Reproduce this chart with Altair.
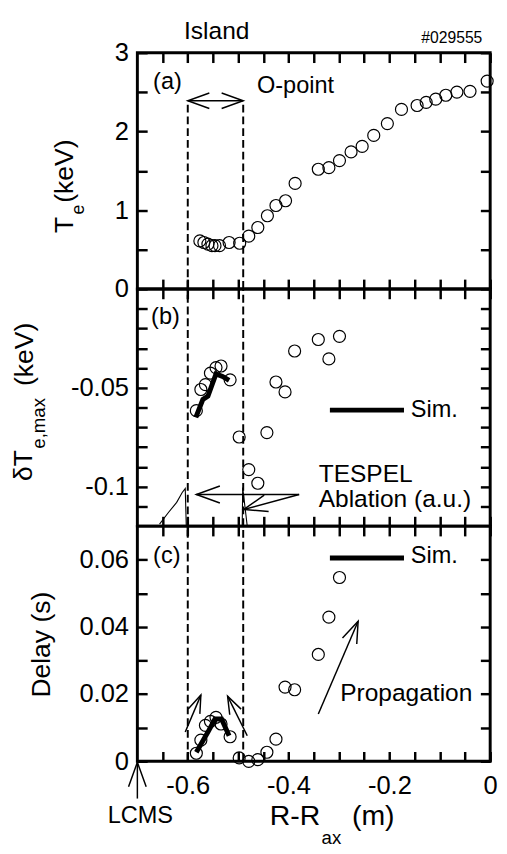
import math
import json
import altair as alt
import pandas as pd

FONT = "Liberation Sans"

# ---------------- data ----------------
# (a) electron temperature profile
te_r = [-0.576, -0.568, -0.560, -0.552, -0.546, -0.537, -0.518, -0.497, -0.479, -0.461,
        -0.442, -0.425, -0.406, -0.387, -0.341, -0.320, -0.299, -0.276, -0.254, -0.231,
        -0.204, -0.176, -0.145, -0.127, -0.108, -0.088, -0.066, -0.040, -0.006]
te_kev = [0.61, 0.59, 0.57, 0.55, 0.55, 0.55, 0.59, 0.58, 0.67, 0.78,
          0.93, 1.06, 1.12, 1.34, 1.52, 1.54, 1.63, 1.74, 1.81, 1.95,
          2.10, 2.28, 2.33, 2.37, 2.41, 2.46, 2.50, 2.51, 2.64]

# (b), (c) measured channels
r_bc = [-0.583, -0.574, -0.565, -0.555, -0.544, -0.534, -0.516, -0.498, -0.479, -0.461,
        -0.443, -0.425, -0.407, -0.388, -0.341, -0.320, -0.299]
dte_max = [-0.0616, -0.0509, -0.0484, -0.0426, -0.0398, -0.0390, -0.0460, -0.0749, -0.0914, -0.0983,
           -0.0727, -0.0471, -0.0521, -0.0314, -0.0256, -0.0354, -0.0240]
delay_s = [0.0024, 0.0063, 0.0107, 0.0119, 0.0131, 0.0111, 0.0073, 0.0010, 0.0000, 0.0005,
           0.0027, 0.0066, 0.0221, 0.0213, 0.0318, 0.0429, 0.0547]

# simulations
sim_b_r = [-0.584, -0.570, -0.560, -0.544, -0.531, -0.518]
sim_b_dte = [-0.0650, -0.0559, -0.0542, -0.0430, -0.0443, -0.0463]
sim_c_r = [-0.583, -0.560, -0.546, -0.533, -0.518]
sim_c_delay = [0.0027, 0.0087, 0.0126, 0.0126, 0.0076]

# TESPEL ablation traces (a.u., drawn at the bottom of panel b)
abl1_r = [-0.656, -0.638, -0.622, -0.611, -0.605, -0.603]
abl1_v = [-0.1190, -0.1130, -0.1080, -0.1030, -0.1010, -0.1200]
abl2_r = [-0.492, -0.491, -0.482]
abl2_v = [-0.1200, -0.1005, -0.1200]

island_r = [-0.6, -0.49]
island_arrow_te = 2.39

# axes: tick positions and labelled values
x_ticks = [-0.65, -0.6, -0.55, -0.5, -0.45, -0.4, -0.35, -0.3, -0.25, -0.2, -0.15, -0.1, -0.05, 0.0]
x_labels = [-0.6, -0.4, -0.2, 0.0]
a_ticks = [0, 0.5, 1, 1.5, 2, 2.5, 3]
a_labels = [0, 1, 2, 3]
b_ticks = [-0.01, -0.02, -0.03, -0.04, -0.05, -0.06, -0.07, -0.08, -0.09, -0.1, -0.11]
b_labels = [-0.05, -0.1]
c_ticks = [0, 0.01, 0.02, 0.03, 0.04, 0.05, 0.06]
c_labels = [0, 0.02, 0.04, 0.06]

# ---------------- layout ----------------
W = 360
HA, HB, HC = 241, 242, 240
XDOM = [-0.7, 0.0]
ADOM, BDOM, CDOM = [0, 3], [-0.12, 0], [0, 0.07]
FMT = "(datum.value < 0 ? '-' + format(-datum.value, '') : format(datum.value, ''))"
HEAD = "M -1 -0.36 L 0 0 L -1 0.36"
TICK_FS = 26
TL = 10  # inward tick length (px)


def frame_axis(orient, vals, labels=None, pad=9):
    """Axis moved inside the frame by its own tick length, so its ticks point inward."""
    kw = dict(orient=orient, values=vals, ticks=True, tickSize=TL, tickWidth=2.5,
              tickColor="black", domain=False, grid=False, title=None, offset=-TL, zindex=1)
    if labels:
        kw.update(labels=True,
                  labelExpr="indexof(" + json.dumps(labels) + ", datum.value) >= 0 ? " + FMT + " : ''",
                  labelFontSize=TICK_FS, labelFont=FONT, labelColor="black",
                  labelPadding=pad, labelOverlap=False, labelFlush=False)
    else:
        kw["labels"] = False
    return alt.Axis(**kw)


def X(field, xax=None):
    return alt.X(f"{field}:Q", scale=alt.Scale(domain=XDOM, nice=False, zero=False), axis=xax)


def Y(field, dom, yax=None):
    return alt.Y(f"{field}:Q", scale=alt.Scale(domain=dom, nice=False, zero=False), axis=yax)


def axis_layers(df, xf, yf, dom, y_ticks, y_labels, x_lab):
    """Visible scatter carrying the bottom/left axes + invisible copy carrying top/right axes."""
    bottom = frame_axis("bottom", x_ticks, x_labels if x_lab else None, pad=12)
    left = frame_axis("left", y_ticks, y_labels, pad=9)
    top = frame_axis("top", x_ticks)
    right = frame_axis("right", y_ticks)
    vis = alt.Chart(df).mark_point(shape="circle", size=150, filled=False, color="black",
                                   strokeWidth=1.2, opacity=1).encode(
        x=X(xf, bottom), y=Y(yf, dom, left))
    inv = alt.Chart(df).mark_point(size=1, opacity=0).encode(
        x=X(xf, top), y=Y(yf, dom, right))
    return [vis, inv]


def label(text, x, y, size=24, align="left", baseline="middle", angle=None):
    kw = dict(align=align, baseline=baseline, fontSize=size, font=FONT, color="black")
    if angle is not None:
        kw["angle"] = angle
    return alt.Chart(pd.DataFrame({"t": [text]})).mark_text(**kw).encode(
        text="t:N", x=alt.value(x), y=alt.value(y))


def arrow(x0, y0, x1, y1, dom, H, head=20, sw=1.5, tail=True):
    dx = (x1 - x0) * W / (XDOM[1] - XDOM[0])
    dy = -(y1 - y0) * H / (dom[1] - dom[0])
    ang = math.degrees(math.atan2(dy, dx)) % 360
    df = pd.DataFrame({"x0": [x0], "y0": [y0], "x1": [x1], "y1": [y1]})
    out = []
    if tail:
        out.append(alt.Chart(df).mark_rule(color="black", strokeWidth=sw).encode(
            x=X("x0"), y=Y("y0", dom), x2="x1:Q", y2="y1:Q"))
    out.append(alt.Chart(df).mark_point(shape=HEAD, size=(2 * head) ** 2, angle=round(ang, 2),
                                        filled=False, color="black", strokeWidth=sw, opacity=1).encode(
        x=X("x1"), y=Y("y1", dom)))
    return out


def sim_line(xs, ys, dom):
    df = pd.DataFrame({"r": xs, "v": ys, "o": list(range(len(xs)))})
    return alt.Chart(df).mark_line(color="black", strokeWidth=5).encode(
        x=X("r"), y=Y("v", dom), order="o:Q")


def legend_line(y, dom):
    df = pd.DataFrame({"x0": [-0.318], "x1": [-0.171], "y": [y]})
    return alt.Chart(df).mark_rule(color="black", strokeWidth=5).encode(
        x=X("x0"), x2="x1:Q", y=Y("y", dom))


def dashes(dom, top=None):
    hi = [top] * 2 if top is not None else [dom[1]] * 2
    df = pd.DataFrame({"r": island_r, "a": [dom[0]] * 2, "b": hi})
    return alt.Chart(df).mark_rule(color="black", strokeWidth=2, strokeDash=[8, 4]).encode(
        x=X("r"), y=Y("a", dom), y2="b:Q")


# ---------------- panel (a) ----------------
df_a = pd.DataFrame({"r": te_r, "te": te_kev})
anchor = alt.Chart(pd.DataFrame({"k": [0]})).mark_rule(color="white", strokeWidth=1).encode(
    x=alt.value(-130), x2=alt.value(-129), y=alt.value(-35), y2=alt.value(-35))
arr_a = (arrow(island_r[1], island_arrow_te, island_r[0], island_arrow_te, ADOM, HA, head=22)
         + arrow(island_r[0], island_arrow_te, island_r[1], island_arrow_te, ADOM, HA, head=22, tail=False))
layers_a = (axis_layers(df_a, "r", "te", ADOM, a_ticks, a_labels, False)
            + [anchor, dashes(ADOM, island_arrow_te)] + arr_a + [
    label("(a)", 16, 30, 24),
    label("O-point", 122, 34, 24),
    label("Island", 81, -14, 25, align="center", baseline="alphabetic"),
    label("#029555", 352, -10, 16, align="right", baseline="alphabetic"),
    label("T", -74, 184, 27, angle=270),
    label("e", -59, 165, 18, angle=270),
    label("(keV)", -74, 153, 27, angle=270),
])
panel_a = alt.layer(*layers_a).resolve_axis(x="independent", y="independent").properties(
    width=W, height=HA)

# ---------------- panel (b) ----------------
df_b = pd.DataFrame({"r": r_bc, "d": dte_max})
abl = []
for xs, vs in ((abl1_r, abl1_v), (abl2_r, abl2_v)):
    dfl = pd.DataFrame({"r": xs, "v": vs, "o": list(range(len(xs)))})
    abl.append(alt.Chart(dfl).mark_line(color="black", strokeWidth=1.1).encode(
        x=X("r"), y=Y("v", BDOM), order="o:Q"))
arr_b = (arrow(-0.379, -0.104, -0.583, -0.104, BDOM, HB, head=24)
         + arrow(-0.379, -0.104, -0.489, -0.1116, BDOM, HB, head=24))
layers_b = (axis_layers(df_b, "r", "d", BDOM, b_ticks, b_labels, False)
            + [dashes(BDOM)] + abl + arr_b + [
    sim_line(sim_b_r, sim_b_dte, BDOM),
    legend_line(-0.0613, BDOM),
    label("(b)", 14, 29, 24),
    label("Sim.", 279, 124, 24),
    label("TESPEL", 185, 189, 25),
    label("Ablation (a.u.)", 185, 214, 25),
    label("δT", -116, 196, 27, angle=270),
    label("e,max", -100, 163, 19, angle=270),
    label("(keV)", -114, 99, 27, angle=270),
])
panel_b = alt.layer(*layers_b).resolve_axis(x="independent", y="independent").properties(
    width=W, height=HB)

# ---------------- panel (c) ----------------
df_c = pd.DataFrame({"r": r_bc, "d": delay_s})
arr_c = (arrow(-0.605, 0.0087, -0.574, 0.0197, CDOM, HC, head=18)
         + arrow(-0.482, 0.0076, -0.521, 0.0194, CDOM, HC, head=18)
         + arrow(-0.341, 0.0141, -0.262, 0.0417, CDOM, HC, head=22))
lcms_df = pd.DataFrame({"k": [0]})
lcms = [
    alt.Chart(lcms_df).mark_rule(color="black", strokeWidth=1.5).encode(
        x=alt.value(0), y=alt.value(278), y2=alt.value(241)),
    alt.Chart(lcms_df).mark_point(shape=HEAD, size=(2 * 25) ** 2, angle=270, filled=False,
                                  color="black", strokeWidth=1.5, opacity=1).encode(
        x=alt.value(0), y=alt.value(241)),
]
layers_c = (axis_layers(df_c, "r", "d", CDOM, c_ticks, c_labels, True)
            + [dashes(CDOM)] + arr_c + lcms + [
    sim_line(sim_c_r, sim_c_delay, CDOM),
    legend_line(0.0605, CDOM),
    label("(c)", 16, 31, 24),
    label("Sim.", 279, 31, 24),
    label("Propagation", 207, 170, 25),
    label("Delay (s)", -97, 121, 27, align="center", angle=270),
    label("LCMS", 3, 296, 24, align="center"),
    label("R-R", 135, 305, 29, baseline="alphabetic"),
    label("ax", 188, 324, 19, baseline="alphabetic"),
    label("(m)", 219, 305, 29, baseline="alphabetic"),
])
panel_c = alt.layer(*layers_c).resolve_axis(x="independent", y="independent").properties(
    width=W, height=HC)

chart = alt.vconcat(panel_a, panel_b, panel_c, spacing=0, bounds="flush",
                    padding={"left": 0, "top": 0, "right": 0, "bottom": 0}).configure_view(
    stroke="black", strokeWidth=3).configure_axis(labelFont=FONT)

chart.save("out.html", embed_options={"renderer": "svg", "actions": False})
